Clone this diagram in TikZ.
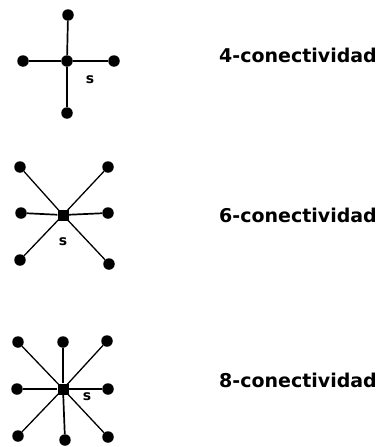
\documentclass[tikz,border=0pt]{standalone}
\usepackage{fontspec}
\setmainfont{DejaVu Sans}
\begin{document}
\begin{tikzpicture}[x=1pt,y=-1pt,
  dot/.style={circle,fill=black,inner sep=0pt,minimum size=11.5pt},
  cdot/.style={rectangle,fill=black,inner sep=0pt,minimum size=11pt},
  edge/.style={line width=1.7pt},
  dedge/.style={line width=1.3pt},
  lab/.style={anchor=base west,inner sep=0pt,font=\bfseries\fontsize{19}{20}\selectfont},
  slab/.style={inner sep=0pt,font=\bfseries\fontsize{14}{14}\selectfont}]
\useasboundingbox (0,0) rectangle (383,447);
% 4-connectivity
\node[dot] (a0) at (67,61) {};
\node[dot] (a1) at (68,15) {};
\node[dot] (a2) at (23,61) {};
\node[dot] (a3) at (114,61) {};
\node[dot] (a4) at (67,113) {};
\draw[edge] (a0) -- (a1); \draw[edge] (a0) -- (a2);
\draw[edge] (a0) -- (a3); \draw[edge] (a0) -- (a4);
\node[slab] (as) at (90,80) {s};
\node[lab] (at) at (219,62) {4-conectividad};
% 6-connectivity
\node[cdot] (b0) at (63,215) {};
\node[dot] (b1) at (20,167) {};
\node[dot] (b2) at (108,167) {};
\node[dot] (b3) at (21,213) {};
\node[dot] (b4) at (108,213) {};
\node[dot] (b5) at (20,260) {};
\node[dot] (b6) at (109,264) {};
\draw[dedge] (b0.center) -- (b1); \draw[dedge] (b0.center) -- (b2);
\draw[edge] (b0) -- (b3); \draw[edge] (b0) -- (b4);
\draw[dedge] (b0.center) -- (b5); \draw[dedge] (b0.center) -- (b6);
\node[slab] (bs) at (63,242) {s};
\node[lab] (bt) at (219,222) {6-conectividad};
% 8-connectivity
\node[cdot] (c0) at (63,389) {};
\node[dot] (c1) at (18,342) {};
\node[dot] (c2) at (63,342) {};
\node[dot] (c3) at (107,341) {};
\node[dot] (c4) at (17,389) {};
\node[dot] (c5) at (108,389) {};
\node[dot] (c6) at (18,436) {};
\node[dot] (c7) at (65,440) {};
\node[dot] (c8) at (108,437) {};
\draw[dedge] (c0.center) -- (c1); \draw[edge] (c0) -- (c2); \draw[dedge] (c0.center) -- (c3);
\draw[edge] (c0) -- (c4); \draw[edge] (c0) -- (c5);
\draw[dedge] (c0.center) -- (c6); \draw[edge] (c0) -- (c7); \draw[dedge] (c0.center) -- (c8);
\node[slab] (cs) at (87,397) {s};
\node[lab] (ct) at (219,387) {8-conectividad};
\end{tikzpicture}
\end{document}
